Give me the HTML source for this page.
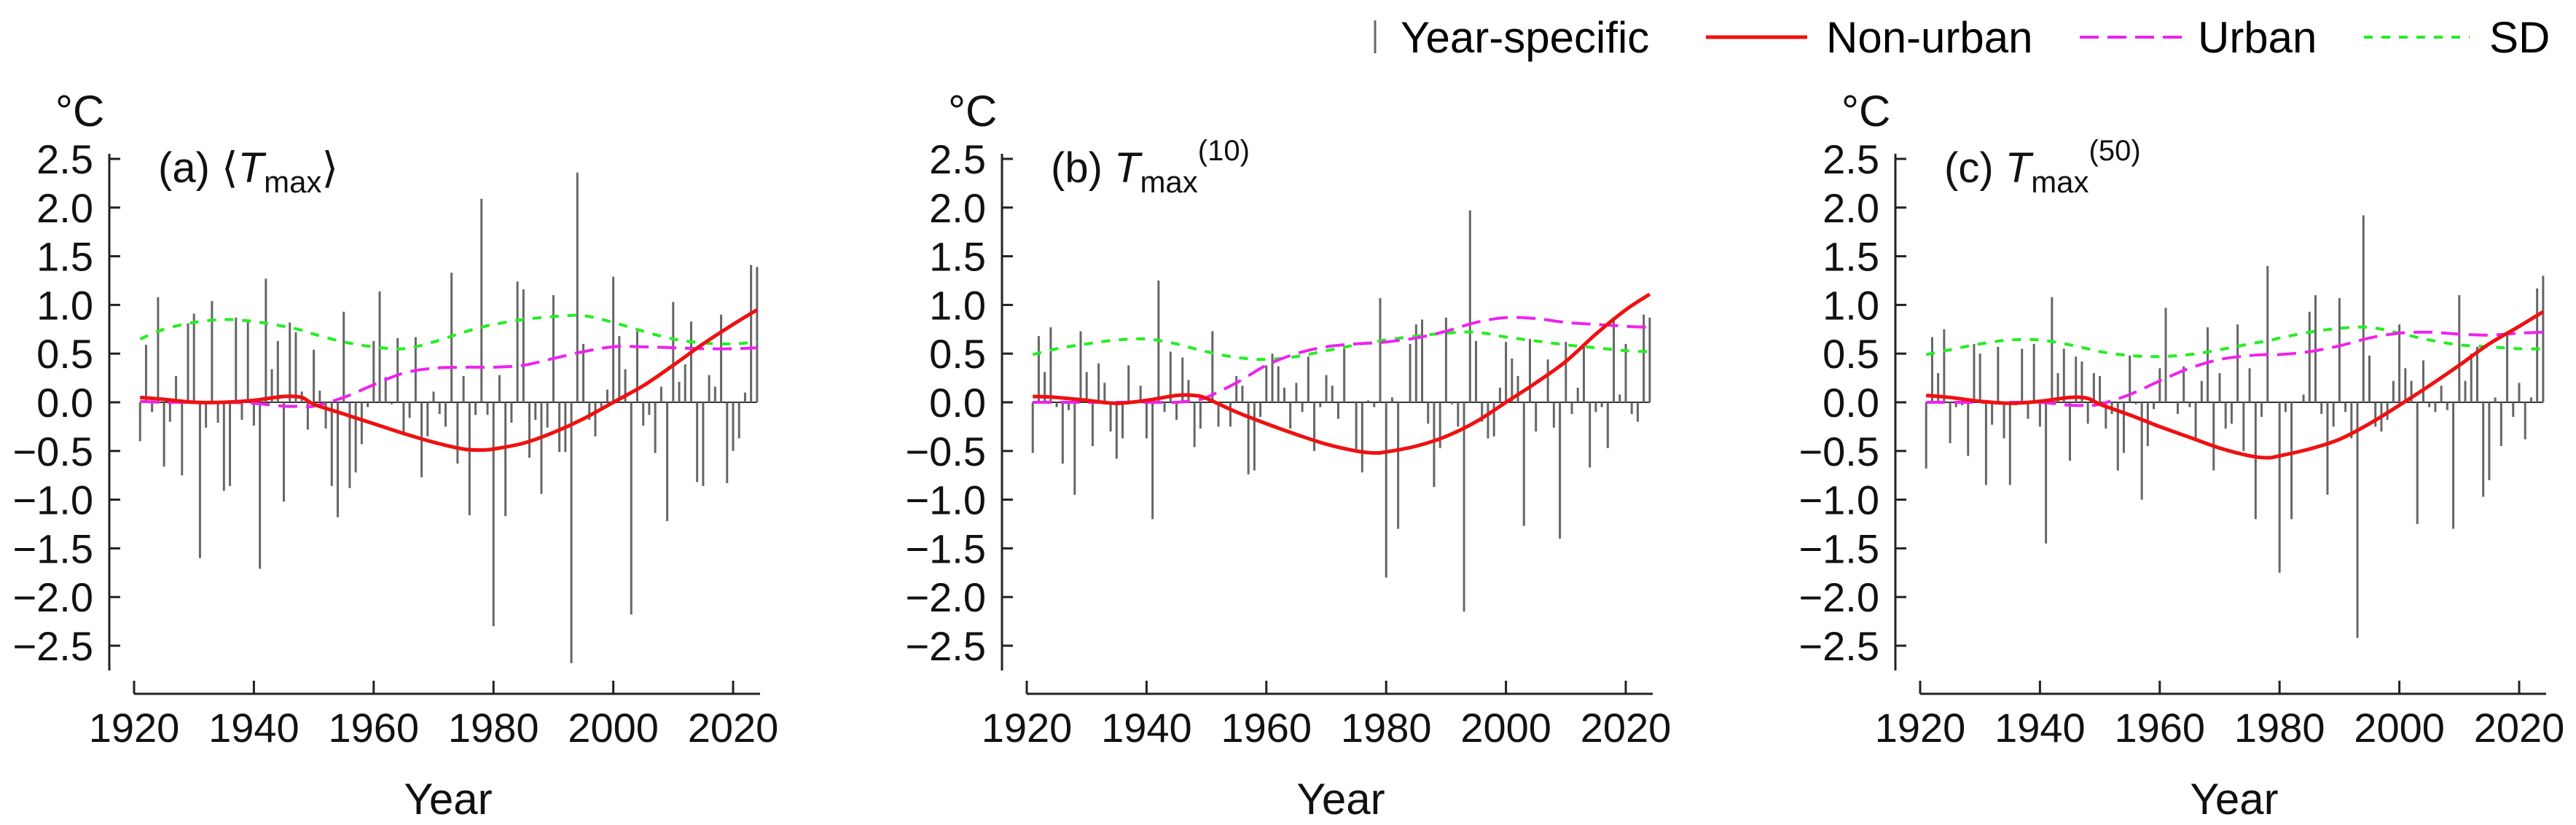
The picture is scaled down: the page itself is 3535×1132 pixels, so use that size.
<!DOCTYPE html>
<html><head><meta charset="utf-8"><style>
html,body{margin:0;padding:0;background:#fff;}
svg{display:block;font-family:"Liberation Sans",Arial,sans-serif;}
</style></head><body>
<svg id="chart" width="3535" height="1132" viewBox="0 0 3535 1132" xmlns="http://www.w3.org/2000/svg">
<g>
 <line x1="1887" y1="28" x2="1887" y2="73" stroke="#666" stroke-width="3"/>
 <text x="1922" y="72" font-size="60">Year-specific</text>
 <line x1="2341" y1="51" x2="2480" y2="51" stroke="#ee1111" stroke-width="5"/>
 <text x="2506" y="72" font-size="60">Non-urban</text>
 <line x1="2854" y1="51" x2="2994" y2="51" stroke="#ee22ee" stroke-width="4" stroke-dasharray="26 12"/>
 <text x="3016" y="72" font-size="60">Urban</text>
 <line x1="3244" y1="51" x2="3389" y2="51" stroke="#22ee22" stroke-width="4" stroke-dasharray="12 12"/>
 <text x="3416" y="72" font-size="60">SD</text>
</g>
</svg>
<script>
const years = Array.from({length:104},(_,i)=>1921+i);
const barsA = [-0.4,0.59,-0.1,1.08,-0.66,-0.2,0.27,-0.75,0.81,0.91,-1.6,-0.26,1.04,-0.21,-0.91,-0.86,0.87,-0.18,0.85,-0.24,-1.71,1.27,0.34,0.63,-1.02,0.82,0.72,0.11,-0.28,0.54,0.12,-0.27,-0.86,-1.18,0.93,-0.88,-0.72,-0.43,-0.05,0.63,1.14,0.26,-0.02,0.66,-0.31,-0.16,0.67,-0.77,-0.35,0.11,-0.12,-0.25,1.33,-0.63,0.27,-1.16,-0.13,2.09,-0.13,-2.3,0.28,-1.17,-0.21,1.24,1.16,-0.57,-0.18,-0.94,-0.26,1.1,-0.51,-0.51,-2.68,2.36,0.6,-0.18,-0.35,-0.05,0.13,1.29,0.68,0.34,-2.18,0.73,-0.24,-0.13,-0.52,0.16,-1.22,1.03,0.21,0.39,0.83,-0.82,-0.86,0.28,0.16,0.9,-0.83,-0.5,-0.37,0.1,1.41,1.39];
const barsB = [-0.52,0.68,0.31,0.77,-0.05,-0.63,-0.08,-0.95,0.73,0.31,-0.45,0.4,0.2,-0.3,-0.58,-0.37,0.38,0.0,0.17,-0.37,-1.2,1.25,-0.1,0.52,-0.18,0.46,0.23,-0.46,-0.27,0.0,0.73,-0.25,0.0,-0.25,0.27,0.17,-0.74,-0.7,-0.15,0.38,0.5,0.37,0.15,-0.27,0.2,-0.1,0.47,-0.5,-0.05,0.28,0.17,-0.17,0.55,0.0,-0.5,-0.72,0.02,-0.05,1.07,-1.8,0.05,-1.3,0.0,0.6,0.8,0.85,-0.22,-0.87,-0.47,0.87,-0.02,-0.25,-2.15,1.97,0.63,-0.2,-0.37,-0.35,0.15,0.62,0.45,0.27,-1.27,0.65,-0.3,0.0,0.44,-0.26,-1.4,0.62,-0.12,0.15,0.58,-0.67,-0.1,-0.05,-0.47,0.85,0.08,0.6,-0.12,-0.2,0.9,0.87];
const barsC = [-0.68,0.67,0.3,0.75,-0.42,-0.05,-0.03,-0.55,0.6,0.5,-0.85,-0.23,0.57,-0.37,-0.85,-0.03,0.55,-0.17,0.6,-0.25,-1.45,1.08,0.3,0.55,-0.6,0.47,0.42,-0.22,0.3,0.27,-0.27,-0.12,-0.7,-0.52,0.48,-0.02,-1.0,-0.45,-0.07,0.35,0.97,0.0,-0.12,0.37,-0.05,-0.38,0.22,0.77,-0.7,0.3,-0.27,-0.22,0.8,-0.5,0.35,-1.2,-0.15,1.4,0.0,-1.75,-0.1,-1.2,0.0,0.08,0.93,1.1,-0.12,-0.95,-0.25,1.07,-0.1,-0.37,-2.42,1.92,0.48,-0.25,-0.3,-0.18,0.22,0.8,0.35,0.22,-1.25,0.43,-0.05,-0.1,0.17,-0.08,-1.3,1.1,0.22,0.5,0.57,-0.97,-0.8,0.05,-0.45,0.7,-0.15,0.2,-0.38,0.05,1.17,1.3];

const curveYears = [1921,1925,1930,1935,1940,1945,1948,1950,1955,1960,1965,1970,1975,1978,1980,1985,1990,1995,2000,2005,2010,2015,2020,2024];
const nonUrbanA = [0.05,0.03,0.0,0.0,0.02,0.06,0.05,-0.02,-0.12,-0.22,-0.32,-0.41,-0.48,-0.49,-0.48,-0.42,-0.31,-0.17,0.0,0.17,0.38,0.6,0.8,0.95];
const nonUrbanB = [0.06,0.05,0.02,-0.01,0.02,0.07,0.07,0.04,-0.1,-0.22,-0.33,-0.43,-0.5,-0.52,-0.51,-0.45,-0.35,-0.2,0.0,0.2,0.42,0.7,0.95,1.11];
const nonUrbanC = [0.07,0.05,0.01,-0.01,0.01,0.05,0.04,-0.02,-0.13,-0.25,-0.36,-0.47,-0.55,-0.57,-0.55,-0.48,-0.38,-0.22,-0.03,0.17,0.38,0.6,0.78,0.93];
const urbanA = [0.01,0.0,0.0,0.0,-0.01,-0.04,-0.04,-0.04,0.05,0.18,0.3,0.35,0.36,0.36,0.36,0.38,0.45,0.52,0.57,0.57,0.56,0.55,0.55,0.56];
const urbanB = [0.0,0.0,0.0,0.0,0.0,0.0,0.02,0.05,0.2,0.38,0.5,0.57,0.6,0.61,0.62,0.66,0.73,0.82,0.87,0.86,0.82,0.8,0.78,0.77];
const urbanC = [0.0,0.0,0.0,0.0,0.0,-0.03,-0.03,-0.02,0.08,0.22,0.35,0.44,0.48,0.49,0.49,0.52,0.58,0.66,0.71,0.72,0.7,0.69,0.71,0.72];
const sdA = [0.65,0.75,0.82,0.85,0.83,0.78,0.74,0.7,0.62,0.57,0.55,0.62,0.72,0.77,0.8,0.85,0.88,0.89,0.82,0.73,0.65,0.61,0.6,0.62];
const sdB = [0.49,0.55,0.6,0.64,0.65,0.6,0.55,0.52,0.46,0.44,0.47,0.53,0.59,0.62,0.64,0.68,0.71,0.72,0.67,0.63,0.59,0.56,0.53,0.52];
const sdC = [0.49,0.54,0.6,0.64,0.64,0.59,0.55,0.52,0.48,0.47,0.49,0.54,0.6,0.63,0.66,0.72,0.76,0.77,0.71,0.64,0.59,0.57,0.55,0.55];
const yTicks = [2.5,2.0,1.5,1.0,0.5,0.0,-0.5,-1.0,-1.5,-2.0,-2.5];
const xTicks = [1920,1940,1960,1980,2000,2020];

const NS="http://www.w3.org/2000/svg";
const svg=document.getElementById('chart');
function mk(tag,attrs,parent){const e=document.createElementNS(NS,tag);for(const k in attrs)e.setAttribute(k,attrs[k]);parent.appendChild(e);return e;}
function fmt(v){return (v<0?'\u2212':'')+Math.abs(v).toFixed(1);}
function smooth(pts){let d='M'+pts[0][0]+','+pts[0][1];for(let i=0;i<pts.length-1;i++){const p0=pts[i-1]||pts[i],p1=pts[i],p2=pts[i+1],p3=pts[i+2]||p2;const c1=[p1[0]+(p2[0]-p0[0])/6,p1[1]+(p2[1]-p0[1])/6],c2=[p2[0]-(p3[0]-p1[0])/6,p2[1]-(p3[1]-p1[1])/6];d+=' C'+c1[0]+','+c1[1]+' '+c2[0]+','+c2[1]+' '+p2[0]+','+p2[1];}return d;}

const panels=[
 {key:'a',off:0,bars:barsA,nu:nonUrbanA,ur:urbanA,sd:sdA},
 {key:'b',off:1225,bars:barsB,nu:nonUrbanB,ur:urbanB,sd:sdB},
 {key:'c',off:2451,bars:barsC,nu:nonUrbanC,ur:urbanC,sd:sdC}];
panels.forEach(P=>{
 const g=mk('g',{},svg);
 
 
 const X=y=>P.off+184+(y-1920)*8.22;
 const Y=v=>552-v*133.6;
 const ax=P.off+150;
 const yl=mk('line',{x1:ax,y1:211,x2:ax,y2:920,stroke:'#222','stroke-width':3},g);
 
 
 yTicks.forEach(t=>{
  const tk=mk('line',{x1:ax,y1:Y(t),x2:ax+15,y2:Y(t),stroke:'#222','stroke-width':3},g);
  
  
  const tl=mk('text',{x:ax-22,y:Y(t)+20,'font-size':56,'text-anchor':'end',fill:'#111'},g);
  tl.textContent=fmt(t);
  
  
 });
 const xl=mk('line',{x1:X(1920),y1:952,x2:X(2024.5),y2:952,stroke:'#222','stroke-width':3},g);
 
 
 xTicks.forEach(t=>{
  const tk=mk('line',{x1:X(t),y1:952,x2:X(t),y2:934,stroke:'#222','stroke-width':3},g);
  
  
  const tl=mk('text',{x:X(t),y:1018,'font-size':56,'text-anchor':'middle',fill:'#111'},g);
  tl.textContent=t;
  
  
 });
 const xt=mk('text',{x:P.off+615,y:1117,'font-size':60,'text-anchor':'middle',fill:'#111'},g);
 xt.textContent='Year';
 
 
 const yt=mk('text',{x:P.off+76,y:173,'font-size':60,fill:'#111'},g);
 yt.textContent='\u00B0C';
 
 
 const ti=mk('text',{x:P.off+217,y:250,'font-size':58,fill:'#111'},g);
 
 
 if(P.key==='a'){
  ti.innerHTML='<tspan>(a) \u27E8</tspan><tspan font-style="italic">T</tspan><tspan font-size="42" dy="14">max</tspan><tspan dy="-14">\u27E9</tspan>';
 } else {
  const sup=P.key==='b'?'(10)':'(50)';
  ti.innerHTML='<tspan>('+P.key+')  </tspan><tspan font-style="italic">T</tspan><tspan font-size="42" dy="14">max</tspan><tspan font-size="40" dy="-44">'+sup+'</tspan>';
 }
 const zl=mk('line',{x1:X(1921),y1:Y(0),x2:X(2024),y2:Y(0),stroke:'#333','stroke-width':2},g);
 
 
 P.bars.forEach((v,i)=>{
  const b=mk('line',{x1:X(years[i]),y1:Y(0),x2:X(years[i]),y2:Y(v),stroke:'#666','stroke-width':3},g);
  
  
 });
 const sdp=mk('path',{d:smooth(curveYears.map((y,i)=>[X(y),Y(P.sd[i])])),fill:'none',stroke:'#22ee22','stroke-width':4,'stroke-dasharray':'12 12'},g);
 
 
 const up=mk('path',{d:smooth(curveYears.map((y,i)=>[X(y),Y(P.ur[i])])),fill:'none',stroke:'#ee22ee','stroke-width':4,'stroke-dasharray':'26 12'},g);
 
 
 const np=mk('path',{d:smooth(curveYears.map((y,i)=>[X(y),Y(P.nu[i])])),fill:'none',stroke:'#ee1111','stroke-width':5},g);
 
 
});
</script>
</body></html>
